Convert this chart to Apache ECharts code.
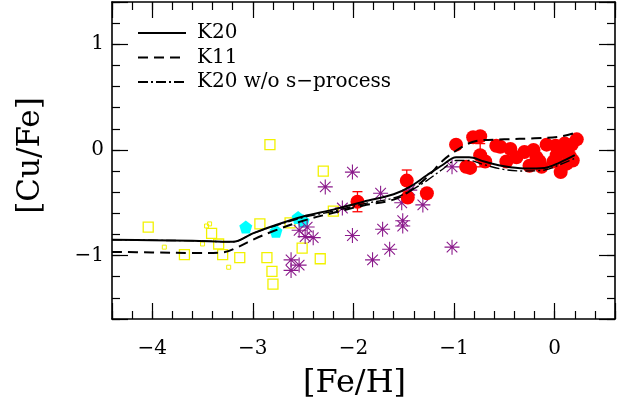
<!DOCTYPE html>
<html>
<head>
<meta charset="utf-8">
<script src="https://cdn.jsdelivr.net/npm/echarts@6/dist/echarts.min.js"></script>
<style>
html,body{margin:0;padding:0;background:#fff;}
#chart{width:629px;height:408px;}
</style>
</head>
<body>
<div id="chart"></div>
<script>
// ---- data ----
const k20X  = [-4.4,-4.0,-3.6,-3.2,-3.0,-2.8,-2.5,-2.2,-1.9,-1.6,-1.44,-1.27,-1.11,-0.98,-0.85,-0.7,-0.5,-0.3,-0.1,0.05,0.2];
const k20Y  = [-0.85,-0.855,-0.86,-0.87,-0.79,-0.72,-0.63,-0.565,-0.49,-0.42,-0.35,-0.24,-0.14,-0.07,-0.07,-0.11,-0.155,-0.175,-0.17,-0.12,-0.05];
const k11X  = [-4.4,-4.0,-3.6,-3.3,-3.15,-3.0,-2.8,-2.5,-2.2,-1.9,-1.6,-1.44,-1.27,-1.11,-1.0,-0.9,-0.78,-0.5,-0.2,0.05,0.2];
const k11Y  = [-0.965,-0.97,-0.975,-0.97,-0.92,-0.85,-0.77,-0.67,-0.595,-0.525,-0.47,-0.39,-0.26,-0.10,-0.02,0.04,0.085,0.10,0.11,0.125,0.16];
const k20noSX = [-4.4,-4.0,-3.6,-3.2,-3.0,-2.8,-2.5,-2.2,-1.9,-1.6,-1.44,-1.27,-1.11,-0.98,-0.85,-0.7,-0.5,-0.3,-0.1,0.05,0.2];
const k20noSY = [-0.85,-0.855,-0.86,-0.87,-0.79,-0.725,-0.64,-0.58,-0.51,-0.455,-0.39,-0.29,-0.18,-0.10,-0.10,-0.14,-0.185,-0.2,-0.19,-0.14,-0.08];

const yellowBig = [[-4.04,-0.73],[-3.41,-0.79],[-3.68,-0.99],[-3.34,-0.89],[-3.30,-0.99],[-3.13,-1.02],[-2.93,-0.70],[-2.83,0.05],[-2.86,-1.02],[-2.81,-1.15],[-2.80,-1.27],[-2.63,-0.69],[-2.51,-0.93],[-2.30,-0.20],[-2.33,-1.03],[-2.20,-0.58]];
const yellowSmall = [[-3.46,-0.72],[-3.43,-0.70],[-3.88,-0.92],[-3.24,-1.11],[-3.50,-0.89]];
const cyanPts = [[-3.07,-0.73],[-2.77,-0.77],[-2.55,-0.64],[-2.50,-0.67]];
const purplePts = [[-2.01,-0.21],[-2.28,-0.35],[-1.73,-0.41],[-1.44,-0.38],[-1.52,-0.50],[-1.31,-0.52],[-2.11,-0.55],[-1.51,-0.67],[-1.51,-0.72],[-1.71,-0.75],[-2.01,-0.81],[-1.64,-0.94],[-1.81,-1.04],[-1.02,-0.92],[-1.02,-0.16],[-2.54,-0.76],[-2.46,-0.73],[-2.48,-0.82],[-2.40,-0.83],[-2.62,-1.04],[-2.54,-1.09],[-2.62,-1.14]];
const redPts = [[-1.96,-0.49],[-1.47,-0.29],[-1.46,-0.45],[-1.27,-0.41],[-0.98,0.05],[-0.88,-0.16],[-0.84,-0.17],[-0.81,0.12],[-0.74,0.13],[-0.74,-0.05],[-0.69,-0.11],[-0.58,0.04],[-0.54,0.03],[-0.48,-0.11],[-0.44,0.01],[-0.38,-0.07],[-0.30,-0.02],[-0.21,0.0],[-0.18,-0.07],[-0.25,-0.15],[-0.13,-0.16],[-0.15,-0.11],[-0.08,0.05],[0.01,0.04],[0.06,-0.21],[0.02,-0.05],[-0.01,-0.11],[0.10,0.06],[0.17,0.05],[0.22,0.10],[0.12,-0.02],[0.15,-0.06],[0.18,-0.10],[0.12,-0.13]];
const redErr = [[-1.96,-0.49,0.095],[-1.47,-0.29,0.1],[-0.74,-0.05,0.11]];

const xTickLabels = ['-4','-3','-2','-1','0'];
const yTickLabels = ['-1','0','1'];
const legendNames = ['K20', 'K11', 'K20 w/o s\u2212process'];

// ---- helpers ----
const zip = (xs, ys) => xs.map((x, i) => [x, ys[i]]);
const FONT = 'DejaVu Serif';
const minus = s => s.replace('-', '\u2212');
const lbl = list => v => { const s = String(Math.round(v)); return (Math.abs(v - Math.round(v)) < 1e-6 && list.includes(s)) ? minus(s) : ''; };

const XMIN = -4.4, XMAX = 0.6, YMIN = -1.6, YMAX = 1.4;
function ax(kind, pos, major, labels) {
  const a = {type: 'value', position: pos, min: kind === 'x' ? XMIN : YMIN, max: kind === 'x' ? XMAX : YMAX,
    splitLine: {show: false},
    axisLine: {show: major, onZero: false, lineStyle: {color: '#000', width: 1.6}},
    axisTick: {show: true, inside: true, length: major ? 16 : 8, lineStyle: {color: '#000', width: 1.2}},
    axisLabel: labels ? {show: true, formatter: lbl(kind === 'x' ? xTickLabels : yTickLabels), fontFamily: FONT, fontSize: 20, color: '#000', margin: kind === 'x' ? 20 : 8} : {show: false}};
  if (major) { a.minInterval = 1; a.maxInterval = 1; } else { a.interval = 0.2; }
  return a;
}

const xAxes = [ax('x', 'bottom', true, true), ax('x', 'bottom', false, false), ax('x', 'top', true, false), ax('x', 'top', false, false)];
xAxes[0].name = '[Fe/H]'; xAxes[0].nameLocation = 'middle'; xAxes[0].nameGap = 49;
xAxes[0].nameTextStyle = {fontFamily: FONT, fontSize: 32, color: '#000', padding: [0, 18, 0, 0]};
const yAxes = [ax('y', 'left', true, true), ax('y', 'left', false, false), ax('y', 'right', true, false), ax('y', 'right', false, false)];
yAxes[0].name = '[Cu/Fe]'; yAxes[0].nameLocation = 'middle'; yAxes[0].nameGap = 66; yAxes[0].nameRotate = 90;
yAxes[0].nameTextStyle = {fontFamily: FONT, fontSize: 31, color: '#000', padding: [0, 0, 0, 10]};

const asterisk = 'path://M0,-10L0,10M-10,0L10,0M-7.07,-7.07L7.07,7.07M-7.07,7.07L7.07,-7.07';
const pentagon = 'path://M0,-10L9.51,-3.09L5.88,8.09L-5.88,8.09L-9.51,-3.09Z';

const option = {
  animation: false,
  backgroundColor: '#fff',
  grid: {left: 112, right: 14, top: 2, bottom: 89},
  xAxis: xAxes,
  yAxis: yAxes,
  legend: {
    show: true, orient: 'vertical', left: 137, top: 23, padding: 0, itemWidth: 48, itemHeight: 14, itemGap: 4.5,
    data: legendNames,
    itemStyle: {opacity: 0},
    textStyle: {fontFamily: FONT, fontSize: 20, lineHeight: 20, color: '#000', padding: [0, 0, 0, 6]},
    selectedMode: false
  },
  series: [
    {type: 'scatter', name: 'yellow', data: yellowBig, symbol: 'rect', symbolSize: 10, z: 2,
      itemStyle: {color: 'rgba(255,255,255,0)', borderColor: '#f2f200', borderWidth: 1.3, opacity: 1}},
    {type: 'scatter', name: 'yellowSmall', data: yellowSmall, symbol: 'rect', symbolSize: 4, z: 2,
      itemStyle: {color: 'rgba(255,255,255,0)', borderColor: '#f2f200', borderWidth: 1, opacity: 1}},
    {type: 'scatter', name: 'cyan', data: cyanPts, symbol: pentagon, symbolSize: 13, z: 2,
      itemStyle: {color: '#00ffff', opacity: 1}},
    {type: 'scatter', name: 'purple', data: purplePts, symbol: asterisk, symbolSize: 15, z: 2,
      itemStyle: {color: '#8b1a8b', borderColor: '#8b1a8b', borderWidth: 1.1, opacity: 1}},
    {type: 'scatter', name: 'red', data: redPts, symbol: 'circle', symbolSize: 14, z: 2,
      itemStyle: {color: '#ff0000', opacity: 1}},
    {type: 'custom', name: 'err', data: redErr, z: 2,
      renderItem: function (params, api) {
        const x = api.value(0), y = api.value(1), e = api.value(2);
        const t = api.coord([x, y + e]), b = api.coord([x, y - e]);
        const st = {stroke: '#ff0000', lineWidth: 1.3};
        return {type: 'group', children: [
          {type: 'line', shape: {x1: t[0], y1: t[1], x2: b[0], y2: b[1]}, style: st},
          {type: 'line', shape: {x1: t[0] - 5, y1: t[1], x2: t[0] + 5, y2: t[1]}, style: st},
          {type: 'line', shape: {x1: b[0] - 5, y1: b[1], x2: b[0] + 5, y2: b[1]}, style: st}
        ]};
      }},
    {type: 'line', name: legendNames[0], data: zip(k20X, k20Y), smooth: 0.35, showSymbol: false, symbol: 'none', z: 5,
      lineStyle: {color: '#000', width: 2}, itemStyle: {color: '#000'}},
    {type: 'line', name: legendNames[1], data: zip(k11X, k11Y), smooth: 0.35, showSymbol: false, symbol: 'none', z: 5,
      lineStyle: {color: '#000', width: 2, type: [10, 6]}, itemStyle: {color: '#000'}},
    {type: 'line', name: legendNames[2], data: zip(k20noSX, k20noSY), smooth: 0.35, showSymbol: false, symbol: 'none', z: 5,
      lineStyle: {color: '#000', width: 1.4, type: [10, 3, 2, 3]}, itemStyle: {color: '#000'}}
  ]
};
const chart = echarts.init(document.getElementById('chart'), null, {renderer: 'canvas'});
chart.setOption(option);
</script>
</body>
</html>
